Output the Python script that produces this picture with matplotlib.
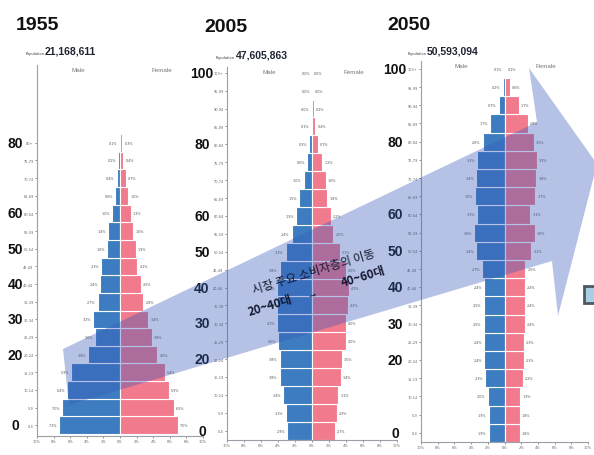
import numpy as np
import matplotlib
matplotlib.use("Agg")
import matplotlib.pyplot as plt
from matplotlib.patches import Polygon, Rectangle
from matplotlib.transforms import blended_transform_factory

W, H = 594, 456

ages_1955 = ["0-4", "5-9", "10-14", "15-19", "20-24", "25-29", "30-34", "35-39",
             "40-44", "45-49", "50-54", "55-59", "60-64", "65-69", "70-74",
             "75-79", "80+"]
ages_long = ages_1955[:-1] + ["80-84", "85-89", "90-94", "95-99", "100+"]

male_1955 = [7.3, 7.0, 6.4, 5.9, 3.8, 3.0, 3.2, 2.7, 2.4, 2.3, 1.6, 1.4, 1.0,
             0.6, 0.4, 0.2, 0.1]
female_1955 = [7.0, 6.5, 5.9, 5.4, 4.5, 3.8, 3.4, 2.8, 2.5, 2.1, 1.9, 1.6, 1.3,
               1.0, 0.7, 0.4, 0.3]

male_2005 = [2.9, 3.1, 3.4, 3.8, 3.8, 4.0, 4.1, 4.1, 4.1, 3.8, 3.1, 2.4, 1.9,
             1.5, 1.0, 0.6, 0.3, 0.1, 0.04, 0.01, 0.0]
female_2005 = [2.7, 2.9, 3.1, 3.4, 3.5, 4.0, 4.0, 4.2, 4.3, 4.0, 3.3, 2.5, 2.2,
               1.8, 1.6, 1.2, 0.7, 0.4, 0.2, 0.03, 0.0]

male_2050 = [1.9, 1.9, 2.0, 2.3, 2.4, 2.4, 2.5, 2.5, 2.4, 2.7, 3.4, 3.6, 3.3,
             3.5, 3.4, 3.3, 2.6, 1.7, 0.7, 0.2, 0.05]
female_2050 = [1.8, 1.8, 1.9, 2.2, 2.3, 2.3, 2.4, 2.4, 2.4, 2.5, 3.2, 3.6, 3.1,
               3.7, 3.8, 3.9, 3.5, 2.8, 1.7, 0.6, 0.1]

years = ["1955", "2005", "2050"]
populations = ["21,168,611", "47,605,863", "50,593,094"]
marker_ages = [0, 20, 30, 40, 50, 60, 80, 100]

male_color = "#3d7cc0"
female_color = "#f27a8d"
narrow = ["Liberation Sans Narrow", "Liberation Sans", "DejaVu Sans"]
korean = ["Noto Sans CJK KR", "DejaVu Sans"]

# pixel layout per panel: axes (left, right, top, bottom), ylim, number x,
# year pos, population pos, male/female label pos
layout = [
    dict(box=(37, 203, 66, 437), ylim=(-0.61, 20.41), num_x=15,
         year=(16, 30), pop=(45, 55), male=(78, 71), female=(162, 71)),
    dict(box=(227, 397, 68, 441), ylim=(-0.52, 20.32), num_x=202,
         year=(204, 32), pop=(236, 59), male=(269, 73), female=(354, 73)),
    dict(box=(421, 588, 62, 443), ylim=(-0.5, 20.43), num_x=395,
         year=(387, 30), pop=(427, 55), male=(461, 67), female=(546, 67)),
]
series = [(ages_1955, male_1955, female_1955),
          (ages_long, male_2005, female_2005),
          (ages_long, male_2050, female_2050)]

fig = plt.figure(figsize=(W / 100, H / 100), dpi=100)

for (ages, male, female), lay in zip(series, layout):
    left, right, top, bottom = lay["box"]
    ax = fig.add_axes([left / W, 1 - bottom / H, (right - left) / W, (bottom - top) / H])
    ax.patch.set_alpha(0)
    y = np.arange(len(ages))
    ax.barh(y, [-v for v in male], height=1.0, color=male_color,
            edgecolor="white", linewidth=0.8)
    ax.barh(y, female, height=1.0, color=female_color,
            edgecolor="white", linewidth=0.8)
    for yi, m, f in zip(y, male, female):
        ax.text(-m - 0.25, yi, f"{m:.1f}%", ha="right", va="center",
                fontsize=2.4, color="#555555")
        ax.text(f + 0.25, yi, f"{f:.1f}%", ha="left", va="center",
                fontsize=2.4, color="#555555")
    ax.set_xlim(-10, 10)
    ax.set_ylim(*lay["ylim"])
    ticks = list(range(-10, 11, 2))
    ax.set_xticks(ticks)
    ax.set_xticklabels([f"{abs(t)}%" for t in ticks])
    ax.set_yticks(y)
    ax.set_yticklabels(ages)
    ax.tick_params(labelsize=2.5, length=1.5, width=0.5, colors="#666666", pad=1)
    for s in ("top", "right"):
        ax.spines[s].set_visible(False)
    for s in ("left", "bottom"):
        ax.spines[s].set_color("#9aa0aa")
        ax.spines[s].set_linewidth(0.8)

    tr = blended_transform_factory(fig.transFigure, ax.transData)
    for age in marker_ages:
        idx = age // 5
        if idx < len(ages):
            ax.text(lay["num_x"] / W, idx, str(age), transform=tr, ha="center",
                    va="center", fontsize=10, fontweight="bold", family=narrow,
                    color="#111111", clip_on=False)

ov = fig.add_axes([0, 0, 1, 1], zorder=10)
ov.set_xlim(0, W)
ov.set_ylim(H, 0)
ov.axis("off")
ov.patch.set_alpha(0)

arrow_pts = [(63, 350), (537, 123), (529, 69), (597, 165), (558, 317),
             (552, 262), (69, 406)]
ov.add_patch(Polygon(arrow_pts, closed=True, facecolor="#3358b8", alpha=0.36,
                     edgecolor="none"))
ov.add_patch(Rectangle((584, 287), 14, 17, facecolor="#a9cfe4",
                       edgecolor="#4b5864", linewidth=2))

for yr, pop, lay in zip(years, populations, layout):
    ov.text(*lay["year"], yr, ha="left", va="baseline", fontsize=14,
            fontweight="bold", family=narrow, color="#111111")
    px, py = lay["pop"]
    ov.text(px - 1, py, "Population", ha="right", va="baseline", fontsize=2.5,
            color="#333333")
    ov.text(px, py, pop, ha="left", va="baseline", fontsize=7.5,
            fontweight="bold", family=narrow, color="#1e2433")
    ov.text(*lay["male"], "Male", ha="center", va="center", fontsize=4.5,
            family=narrow, color="#777777")
    ov.text(*lay["female"], "Female", ha="center", va="center", fontsize=4.5,
            family=narrow, color="#777777")

ov.text(314, 272, "시장 주요 소비자층의 이동", rotation=17, ha="center",
        va="center", rotation_mode="anchor", fontsize=8.5, family=korean,
        color="#14182e")
ov.text(270, 306, "20~40대", rotation=17, ha="center", va="center",
        rotation_mode="anchor", fontsize=8.5, fontweight="bold", family=korean,
        color="#14182e")
ov.text(313, 296, "→", rotation=17, ha="center", va="center",
        rotation_mode="anchor", fontsize=5, family=korean, color="#14182e")
ov.text(363, 277, "40~60대", rotation=17, ha="center", va="center",
        rotation_mode="anchor", fontsize=8.5, fontweight="bold", family=korean,
        color="#14182e")

fig.savefig("out.png", dpi=100)
